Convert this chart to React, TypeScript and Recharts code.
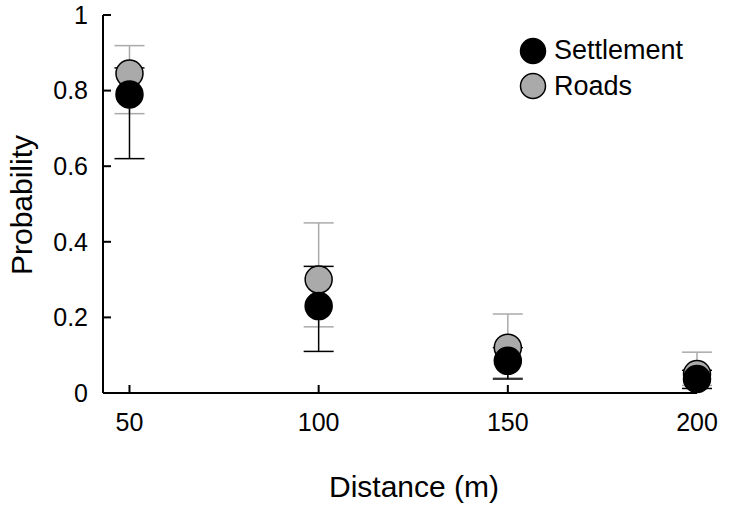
import React from 'react';
import { ScatterChart, Scatter, XAxis, YAxis, ErrorBar } from 'recharts';

const distances = [50, 100, 150, 200];

const settlement = [0.79, 0.23, 0.085, 0.037];
const settlementLow = [0.62, 0.11, 0.037, 0.012];
const settlementHigh = [0.86, 0.335, 0.12, 0.06];

const roads = [0.845, 0.3, 0.12, 0.05];
const roadsLow = [0.739, 0.175, 0.04, 0.02];
const roadsHigh = [0.919, 0.45, 0.209, 0.108];

const xTicks = [50, 100, 150, 200];
const yTicks = [0, 0.2, 0.4, 0.6, 0.8, 1];

const FONT = '"Liberation Sans", Arial, sans-serif';
const TICK_FONT = 25;
const TICK_LEN = 8;

// layout
const W = 730;
const H = 507;
const MARGIN = { top: 15, right: 33, bottom: 0, left: 0 };
const Y_AXIS_W = 103;
const X_AXIS_H = 114;
const AXIS_Y = H - MARGIN.bottom - X_AXIS_H; // where the x axis line sits
const AXIS_X = MARGIN.left + Y_AXIS_W; // where the y axis line sits

const settlementData = distances.map((d, i) => ({
  x: d,
  y: settlement[i],
  err: [settlement[i] - settlementLow[i], settlementHigh[i] - settlement[i]],
}));
const roadsData = distances.map((d, i) => ({
  x: d,
  y: roads[i],
  err: [roads[i] - roadsLow[i], roadsHigh[i] - roads[i]],
}));

const Dot = (fill: string) => (props: any) =>
  <circle cx={props.cx} cy={props.cy} r={13.5} fill={fill} stroke="#000" strokeWidth={1.5} />;

const Nothing = () => <g />;

// ticks point into the plot, so draw them ourselves
const XTick = (props: any) => {
  const { payload } = props;
  const x = payload.coordinate;
  return (
    <g>
      <line x1={x} x2={x} y1={AXIS_Y} y2={AXIS_Y - TICK_LEN} stroke="#000" strokeWidth={2} />
      <text x={x} y={AXIS_Y + 20} dy="0.71em" textAnchor="middle" fontSize={TICK_FONT} fontFamily={FONT} fill="#000">
        {payload.value}
      </text>
    </g>
  );
};

const YTick = (props: any) => {
  const { payload } = props;
  const y = payload.coordinate;
  return (
    <g>
      <line x1={AXIS_X} x2={AXIS_X + TICK_LEN} y1={y} y2={y} stroke="#000" strokeWidth={2} />
      <text x={AXIS_X - 15} y={y} dy="0.355em" textAnchor="end" fontSize={TICK_FONT} fontFamily={FONT} fill="#000">
        {payload.value}
      </text>
    </g>
  );
};

const XTitle = (props: any) => {
  const vb = props.viewBox;
  return (
    <text x={vb.x + vb.width / 2 + 14} y={vb.y + 104} textAnchor="middle"
      fontSize={30} fontFamily={FONT} fill="#000">Distance (m)</text>
  );
};

const YTitle = (props: any) => {
  const vb = props.viewBox;
  const x = vb.x + 32;
  const y = vb.y + vb.height / 2 + 1;
  return (
    <text x={x} y={y} textAnchor="middle" transform={`rotate(-90, ${x}, ${y})`}
      fontSize={30} fontFamily={FONT} fill="#000">Probability</text>
  );
};

function LegendRow({ fill, label }: { fill: string; label: string }) {
  return (
    <div style={{ display: 'flex', alignItems: 'center', height: 35.5 }}>
      <svg width={30} height={30} style={{ marginRight: 6 }}>
        <circle cx={15} cy={15} r={12.5} fill={fill} stroke="#000" strokeWidth={1.5} />
      </svg>
      <span style={{ fontSize: 27, lineHeight: '35.5px', fontFamily: FONT, color: '#000' }}>{label}</span>
    </div>
  );
}

export default function App() {
  return (
    <div style={{ position: 'absolute', left: 0, top: 0, width: W, height: H, background: '#fff' }}>
      <ScatterChart width={W} height={H} margin={MARGIN}>
        <XAxis
          type="number"
          dataKey="x"
          domain={[43, 200]}
          ticks={xTicks}
          height={X_AXIS_H}
          tickLine={false}
          tick={XTick}
          axisLine={{ stroke: '#000', strokeWidth: 2 }}
          label={XTitle}
        />
        <YAxis
          type="number"
          dataKey="y"
          domain={[0, 1]}
          ticks={yTicks}
          width={Y_AXIS_W}
          tickLine={false}
          tick={YTick}
          axisLine={{ stroke: '#000', strokeWidth: 2 }}
          label={YTitle}
        />
        {/* error bars first, so the circles sit over them */}
        <Scatter data={roadsData} shape={Nothing} isAnimationActive={false} legendType="none">
          <ErrorBar dataKey="err" direction="y" width={15} stroke="#aaaaaa" strokeWidth={1.5} isAnimationActive={false} />
        </Scatter>
        <Scatter data={settlementData} shape={Nothing} isAnimationActive={false} legendType="none">
          <ErrorBar dataKey="err" direction="y" width={15} stroke="#000" strokeWidth={1.5} isAnimationActive={false} />
        </Scatter>
        <Scatter name="Roads" data={roadsData} shape={Dot('#aaaaaa')} isAnimationActive={false} />
        <Scatter name="Settlement" data={settlementData} shape={Dot('#000')} isAnimationActive={false} />
      </ScatterChart>
      <div style={{ position: 'absolute', left: 518, top: 33 }}>
        <LegendRow fill="#000" label="Settlement" />
        <LegendRow fill="#aaaaaa" label="Roads" />
      </div>
    </div>
  );
}
